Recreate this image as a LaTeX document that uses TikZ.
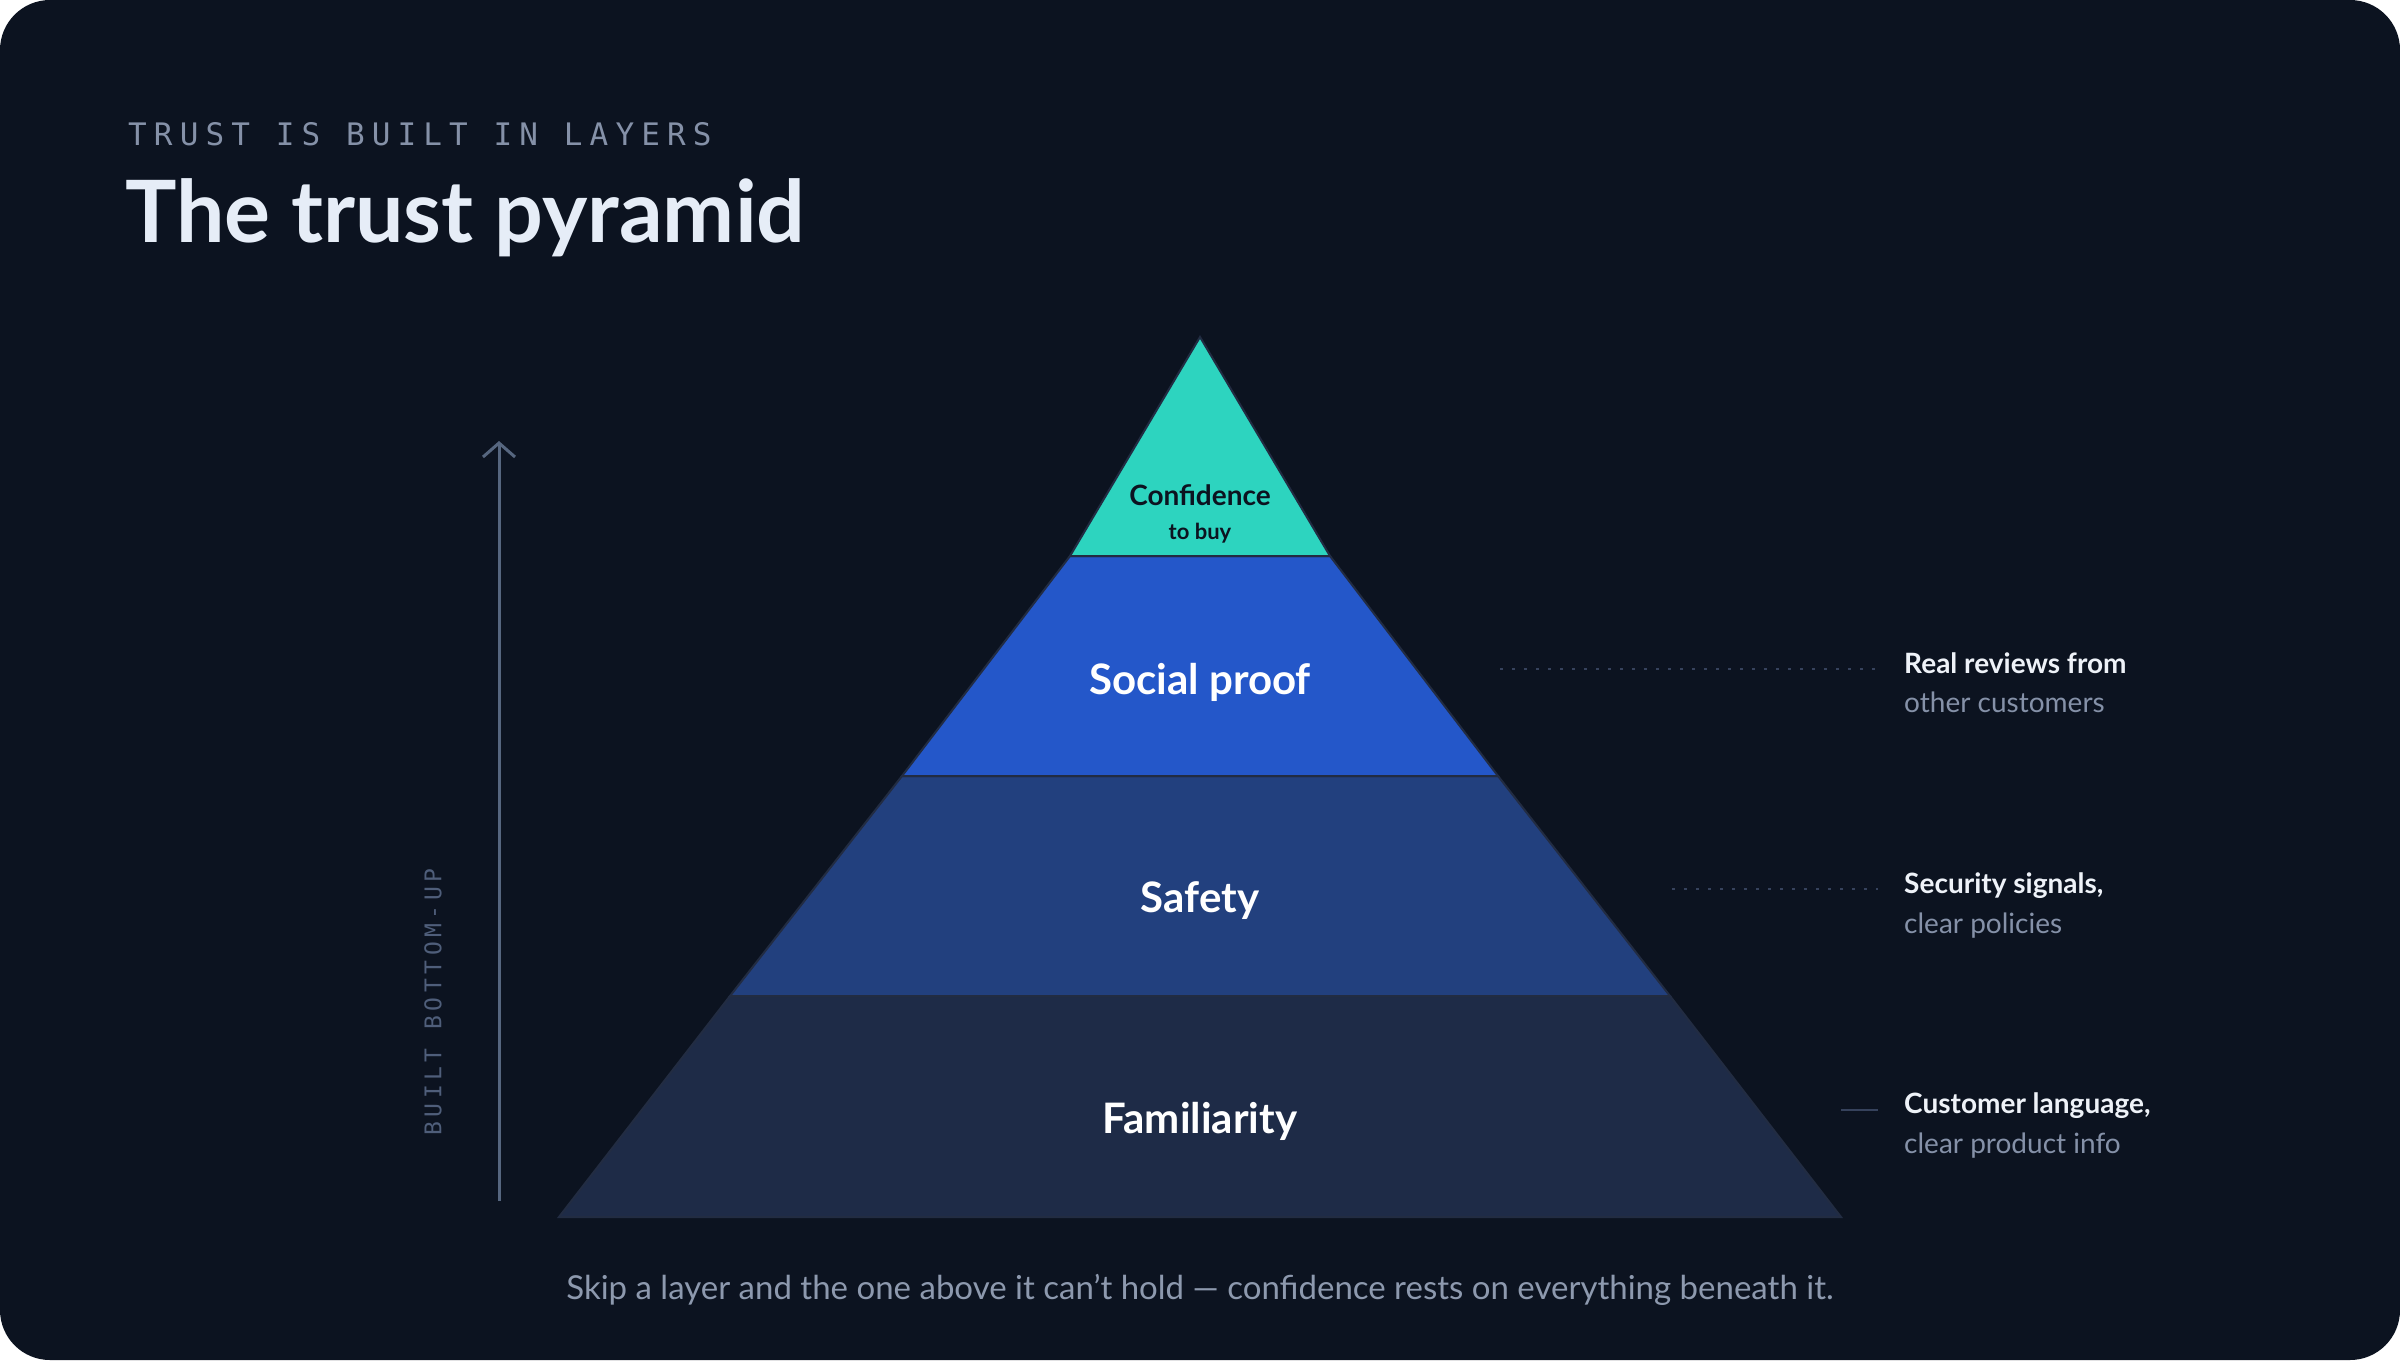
\documentclass[tikz,border=0pt]{standalone}
\usepackage{fontspec}
\setmainfont{Lato}
\newfontfamily\monof[LetterSpace=23]{DejaVu Sans Mono}
\newfontfamily\monov[LetterSpace=20]{DejaVu Sans Mono}
\usetikzlibrary{arrows.meta}
\definecolor{bgc}{HTML}{0C1320}
\definecolor{tealc}{HTML}{2DD4BF}
\definecolor{socialc}{HTML}{2457C9}
\definecolor{safetyc}{HTML}{22407E}
\definecolor{famc}{HTML}{1E2B47}
\definecolor{strokec}{HTML}{222C42}
\definecolor{eyebrowc}{HTML}{8591A8}
\definecolor{titlec}{HTML}{E6EDF7}
\definecolor{arrowc}{HTML}{56667F}
\definecolor{vertc}{HTML}{4F5E7A}
\definecolor{annoc}{HTML}{EEF2F8}
\definecolor{greyc}{HTML}{8591A8}
\definecolor{capc}{HTML}{8D99AE}
\definecolor{leaderc}{HTML}{36425C}
\tikzset{
  layer/.style={draw=strokec, line width=2pt, line join=miter},
  layerlabel/.style={text=white, font=\fontsize{42}{50}\selectfont\bfseries, inner sep=0pt},
  annobold/.style={anchor=base west, text=annoc, font=\fontsize{28}{34}\selectfont\bfseries, inner sep=0pt},
  annogrey/.style={anchor=base west, text=greyc, font=\fontsize{28}{34}\selectfont, inner sep=0pt},
  leaderdot/.style={draw=leaderc, line width=2pt, dash pattern=on 3pt off 9pt},
  leadersolid/.style={draw=leaderc, line width=2pt},
}
\begin{document}
\begin{tikzpicture}[x=1pt, y=-1pt]
\useasboundingbox (0,0) rectangle (2400,1360);
\fill[white] (0,0) rectangle (2400,1360);
\fill[bgc, rounded corners=50pt] (0,0) rectangle (2400,1360);

% header
\node[anchor=base west, inner sep=0pt, text=eyebrowc, font=\monof\fontsize{31}{36}\selectfont] (eyebrow) at (128,145) {TRUST IS BUILT IN LAYERS};
\node[anchor=base west, inner sep=0pt, text=titlec, font=\fontsize{86}{100}\selectfont\bfseries] (title) at (125,242) {The trust pyramid};

% pyramid layers
\path[layer, fill=famc] (730,996) -- (1670,996) -- (1841,1217) -- (559,1217) -- cycle;
\path[layer, fill=safetyc] (902,776) -- (1498,776) -- (1670,996) -- (730,996) -- cycle;
\path[layer, fill=socialc] (1070,556) -- (1330,556) -- (1498,776) -- (902,776) -- cycle;
\path[layer, fill=tealc] (1200,337) -- (1330,556) -- (1070,556) -- cycle;

% layer labels
\node[inner sep=0pt, text=bgc, font=\fontsize{28}{32}\selectfont\bfseries] (conf) at (1200,495) {Confidence};
\node[inner sep=0pt, text=bgc, font=\fontsize{22}{26}\selectfont\bfseries] (tobuy) at (1200,533) {to buy};
\node[layerlabel] (social) at (1200,682) {Social proof};
\node[layerlabel] (safety) at (1200,901) {Safety};
\node[layerlabel] (famil) at (1200,1121) {Familiarity};

% annotations
\node[annobold] (a1) at (1904,673) {Real reviews from};
\node[annogrey] (a1b) at (1904,712) {other customers};
\node[annobold] (a2) at (1904,893) {Security signals,};
\node[annogrey] (a2b) at (1904,933) {clear policies};
\node[annobold] (a3) at (1904,1113) {Customer language,};
\node[annogrey] (a3b) at (1904,1153) {clear product info};

% leader lines
\coordinate (l1s) at (1500,669);
\coordinate (l1e) at (1878,669);
\coordinate (l2s) at (1672,889);
\coordinate (l2e) at (1878,889);
\coordinate (l3s) at (1841,1110);
\coordinate (l3e) at (1878,1110);
\draw[leaderdot] (l1s) -- (l1e);
\draw[leaderdot] (l2s) -- (l2e);
\draw[leadersolid] (l3s) -- (l3e);

% vertical arrow
\coordinate (arrbot) at (499,1201);
\coordinate (arrtop) at (499,441);
\draw[arrowc, line width=3pt, -{Straight Barb[length=14pt, width=32pt, line width=3pt]}] (arrbot) -- (arrtop);
\node[rotate=90, inner sep=0pt, text=vertc, font=\monov\fontsize{23}{26}\selectfont] (vert) at (433,1002) {BUILT BOTTOM-UP};

% caption
\node[inner sep=0pt, text=capc, font=\fontsize{33}{38}\selectfont] (caption) at (1200,1290) {Skip a layer and the one above it can't hold — confidence rests on everything beneath it.};
\end{tikzpicture}
\end{document}
